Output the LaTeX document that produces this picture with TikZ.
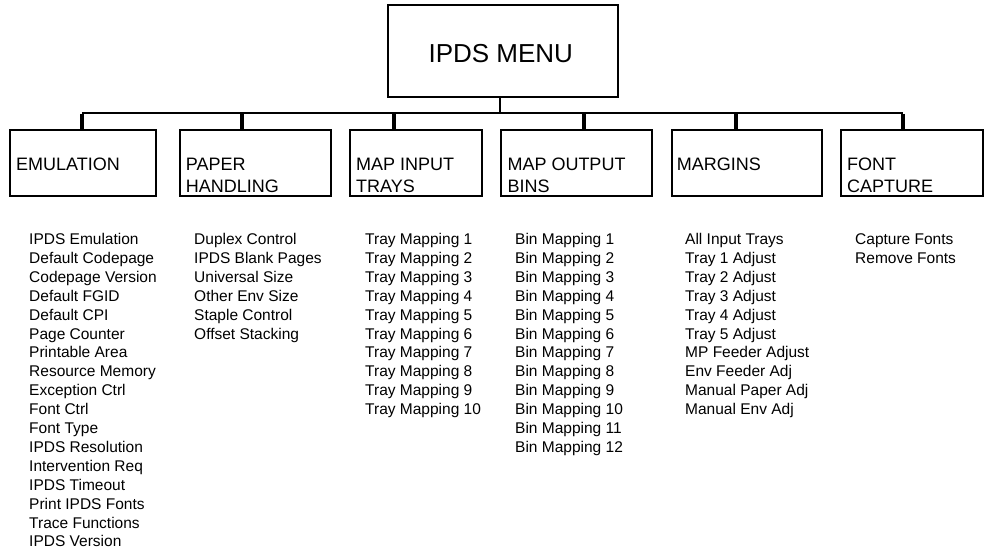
\documentclass[tikz,border=0pt]{standalone}
\usepackage{fontspec}
\setmainfont{Liberation Sans}
\begin{document}
\begin{tikzpicture}[x=1pt,y=-1pt,
  box/.style={draw, line width=2pt, inner sep=0pt},
  lbl/.style={anchor=base west, inner sep=0pt, font=\fontsize{18}{22}\selectfont},
  item/.style={anchor=base west, inner sep=0pt, font=\fontsize{15.5}{18.9}\selectfont},
  bus/.style={line width=1.7pt},
  stub/.style={line width=4pt}]
\useasboundingbox (0,0) rectangle (984,550);

% top box
\node[box, minimum width=230pt, minimum height=91.7pt] (top) at (502.7,50.85) {};
\node[anchor=base, inner sep=0pt, font=\fontsize{26}{30}\selectfont] (topL) at (500.8,62) {IPDS MENU};

% second-level boxes
\node[box, minimum width=145.7pt, minimum height=65.7pt] (emu) at (83.15,162.85) {};
\node[box, minimum width=151pt,   minimum height=65.7pt] (pap) at (255.5,162.85) {};
\node[box, minimum width=132pt,   minimum height=65.7pt] (inp) at (416.3,162.85) {};
\node[box, minimum width=151pt,   minimum height=65.7pt] (out) at (576.8,162.85) {};
\node[box, minimum width=150.6pt, minimum height=65.7pt] (mar) at (747,162.85) {};
\node[box, minimum width=141.5pt, minimum height=65.7pt] (fnt) at (911.75,162.85) {};

% labels
\node[lbl] (emuL)  at (16,170)    {EMULATION};
\node[lbl] (papL1) at (185.7,170) {PAPER};
\node[lbl] (papL2) at (185.7,192) {HANDLING};
\node[lbl] (inpL1) at (356,170)   {MAP INPUT};
\node[lbl] (inpL2) at (356,192)   {TRAYS};
\node[lbl] (outL1) at (507.3,170) {MAP OUTPUT};
\node[lbl] (outL2) at (507.3,192) {BINS};
\node[lbl] (marL)  at (676.7,170) {MARGINS};
\node[lbl] (fntL1) at (847,170)   {FONT};
\node[lbl] (fntL2) at (847,192)   {CAPTURE};

% connectors
\coordinate (tj) at (500.3,113);
\coordinate (s1) at (82,113);
\coordinate (s2) at (241.5,113);
\coordinate (s3) at (393.5,113);
\coordinate (s4) at (583.5,113);
\coordinate (s5) at (735.5,113);
\coordinate (s6) at (902.5,113);
\draw[bus] (tj |- top.south) -- (tj);
\draw[bus] (s1) -- (s6);
\draw[stub] ([yshift=-0.85pt]s1) -- (s1 |- emu.north);
\draw[stub] (s2) -- (s2 |- pap.north);
\draw[stub] (s3) -- (s3 |- inp.north);
\draw[stub] (s4) -- (s4 |- out.north);
\draw[stub] (s5) -- (s5 |- mar.north);
\draw[stub] ([yshift=-0.85pt]s6) -- (s6 |- fnt.north);

% item lists
\foreach \t [count=\i from 0] in {IPDS Emulation, Default Codepage, Codepage Version, Default FGID, Default CPI, Page Counter, Printable Area, Resource Memory, Exception Ctrl, Font Ctrl, Font Type, IPDS Resolution, Intervention Req, IPDS Timeout, Print IPDS Fonts, Trace Functions, IPDS Version}
  \node[item] (a\i) at ({29},{244.5+18.9*\i}) {\t};
\foreach \t [count=\i from 0] in {Duplex Control, IPDS Blank Pages, Universal Size, Other Env Size, Staple Control, Offset Stacking}
  \node[item] (b\i) at ({194},{244.5+18.9*\i}) {\t};
\foreach \t [count=\i from 0] in {Tray Mapping 1, Tray Mapping 2, Tray Mapping 3, Tray Mapping 4, Tray Mapping 5, Tray Mapping 6, Tray Mapping 7, Tray Mapping 8, Tray Mapping 9, Tray Mapping 10}
  \node[item] (c\i) at ({365},{244.5+18.9*\i}) {\t};
\foreach \t [count=\i from 0] in {Bin Mapping 1, Bin Mapping 2, Bin Mapping 3, Bin Mapping 4, Bin Mapping 5, Bin Mapping 6, Bin Mapping 7, Bin Mapping 8, Bin Mapping 9, Bin Mapping 10, Bin Mapping 11, Bin Mapping 12}
  \node[item] (d\i) at ({515},{244.5+18.9*\i}) {\t};
\foreach \t [count=\i from 0] in {All Input Trays, Tray 1 Adjust, Tray 2 Adjust, Tray 3 Adjust, Tray 4 Adjust, Tray 5 Adjust, MP Feeder Adjust, Env Feeder Adj, Manual Paper Adj, Manual Env Adj}
  \node[item] (e\i) at ({685},{244.5+18.9*\i}) {\t};
\foreach \t [count=\i from 0] in {Capture Fonts, Remove Fonts}
  \node[item] (f\i) at ({855},{244.5+18.9*\i}) {\t};
\end{tikzpicture}
\end{document}
